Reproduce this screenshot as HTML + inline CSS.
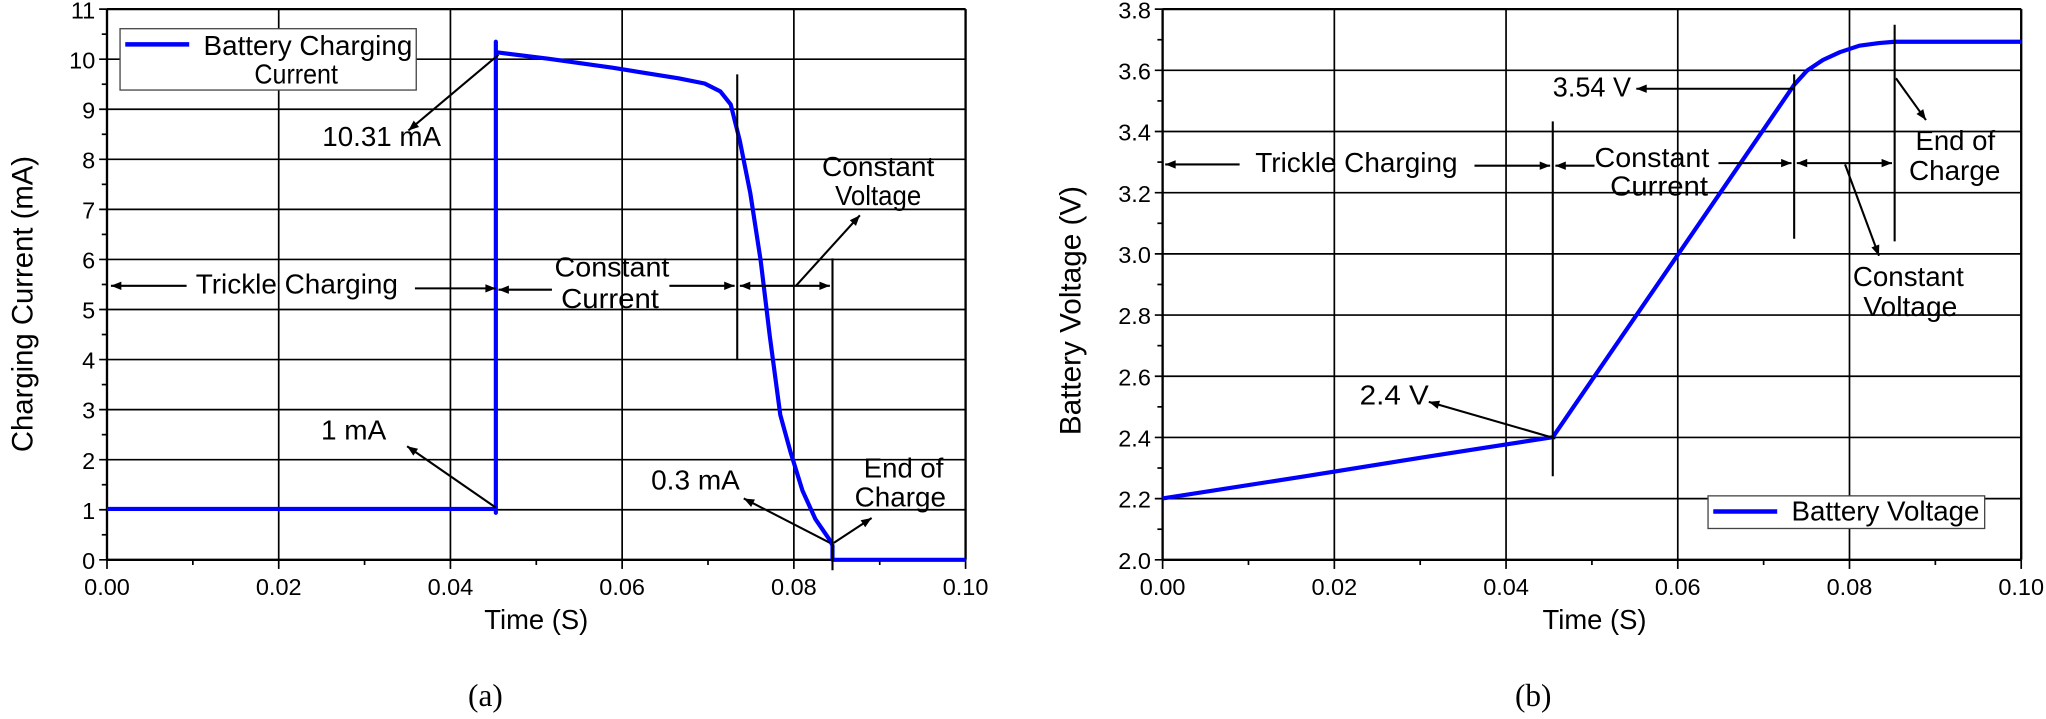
<!DOCTYPE html>
<html><head><meta charset="utf-8"><style>
html,body{margin:0;padding:0;background:#fff;}
svg{display:block;}
text{font-family:"Liberation Sans",Arial,sans-serif;fill:#000;}
</style></head><body>
<svg id="s" width="2046" height="719" viewBox="0 0 1568 551" preserveAspectRatio="none" xmlns="http://www.w3.org/2000/svg">
<defs>
<marker id="ah" viewBox="0 0 10 10" refX="10" refY="5" markerWidth="12" markerHeight="8" markerUnits="userSpaceOnUse" orient="auto">
<path d="M0,1 L10,5 L0,9 Z" fill="#000"/></marker>
</defs>
<g id="grid" stroke="#000" stroke-width="1.3" fill="none"></g>
<g id="lbl" font-size="18"></g>

<polyline fill="none" stroke="#0000ff" stroke-width="3.2" stroke-linejoin="round" points="82,390 380,390 380,393 380,32 380,40 420,45 470,52 520,60 540,64 552,70 560,80 567,108 575,148 583,200 590,258 598,318 606,347 615,376 625,398 636,414 638,418 638,429 740,429"/>
<polyline fill="none" stroke="#0000ff" stroke-width="3.2" stroke-linejoin="round" points="891,382 1000,365 1100,349 1190,335 1286,195 1375,65 1385,54 1397,46 1410,40 1425,35 1440,33 1452,32 1549,32"/>

<g stroke="#000" stroke-width="1.6" fill="none">
<line x1="565" y1="57" x2="565" y2="276"/>
<line x1="638" y1="198" x2="638" y2="437"/>
<line x1="382" y1="42" x2="313" y2="100" marker-end="url(#ah)"/>
<line x1="143" y1="219" x2="85" y2="219" marker-end="url(#ah)"/>
<line x1="318" y1="221" x2="380" y2="221" marker-end="url(#ah)"/>
<line x1="423" y1="222" x2="382" y2="222" marker-end="url(#ah)"/>
<line x1="513" y1="219" x2="563" y2="219" marker-end="url(#ah)"/>
<line x1="585" y1="219" x2="567" y2="219" marker-end="url(#ah)"/>
<line x1="585" y1="219" x2="636" y2="219" marker-end="url(#ah)"/>
<line x1="610" y1="219" x2="659" y2="165" marker-end="url(#ah)"/>
<line x1="380" y1="389" x2="312" y2="342" marker-end="url(#ah)"/>
<line x1="636" y1="416" x2="570" y2="382" marker-end="url(#ah)"/>
<line x1="639" y1="416" x2="668" y2="397" marker-end="url(#ah)"/>
<line x1="1190" y1="93" x2="1190" y2="365"/>
<line x1="1375" y1="57" x2="1375" y2="183"/>
<line x1="1452" y1="19" x2="1452" y2="185"/>
<line x1="950" y1="126" x2="893" y2="126" marker-end="url(#ah)"/>
<line x1="1130" y1="127" x2="1188" y2="127" marker-end="url(#ah)"/>
<line x1="1222" y1="127" x2="1192" y2="127" marker-end="url(#ah)"/>
<line x1="1317" y1="125" x2="1373" y2="125" marker-end="url(#ah)"/>
<line x1="1414" y1="125" x2="1377" y2="125" marker-end="url(#ah)"/>
<line x1="1414" y1="125" x2="1450" y2="125" marker-end="url(#ah)"/>
<line x1="1414" y1="126" x2="1440" y2="196" marker-end="url(#ah)"/>
<line x1="1453" y1="60" x2="1476" y2="92" marker-end="url(#ah)"/>
<line x1="1375" y1="68" x2="1254" y2="68" marker-end="url(#ah)"/>
<line x1="1192" y1="336" x2="1095" y2="308" marker-end="url(#ah)"/>
</g>

<rect x="92" y="22" width="227" height="47" fill="#fff" stroke="#444" stroke-width="1"/>
<line x1="96" y1="34" x2="145" y2="34" stroke="#0000ff" stroke-width="3.5"/>
<g font-size="21" lengthAdjust="spacingAndGlyphs">
<text x="156" y="42" textLength="160" lengthAdjust="spacingAndGlyphs">Battery Charging</text>
<text x="195" y="64" textLength="64" lengthAdjust="spacingAndGlyphs">Current</text>
</g>
<rect x="1309" y="380" width="212" height="25" fill="#fff" stroke="#444" stroke-width="1"/>
<line x1="1313" y1="392" x2="1362" y2="392" stroke="#0000ff" stroke-width="3.5"/>
<text x="1373" y="399" font-size="21" textLength="144" lengthAdjust="spacingAndGlyphs">Battery Voltage</text>

<g font-size="21">
<text x="247" y="112" textLength="91" lengthAdjust="spacingAndGlyphs">10.31 mA</text>
<text x="150" y="225" textLength="155" lengthAdjust="spacingAndGlyphs">Trickle Charging</text>
<text x="425" y="212" textLength="88" lengthAdjust="spacingAndGlyphs">Constant</text>
<text x="430" y="236" textLength="75" lengthAdjust="spacingAndGlyphs">Current</text>
<text x="630" y="135" textLength="86" lengthAdjust="spacingAndGlyphs">Constant</text>
<text x="640" y="157" textLength="66" lengthAdjust="spacingAndGlyphs">Voltage</text>
<text x="246" y="337" textLength="50" lengthAdjust="spacingAndGlyphs">1 mA</text>
<text x="499" y="375" textLength="68" lengthAdjust="spacingAndGlyphs">0.3 mA</text>
<text x="662" y="366" textLength="61" lengthAdjust="spacingAndGlyphs">End of</text>
<text x="655" y="388" textLength="70" lengthAdjust="spacingAndGlyphs">Charge</text>
<text x="962" y="132" textLength="155" lengthAdjust="spacingAndGlyphs">Trickle Charging</text>
<text x="1222" y="128" textLength="88" lengthAdjust="spacingAndGlyphs">Constant</text>
<text x="1234" y="150" textLength="75" lengthAdjust="spacingAndGlyphs">Current</text>
<text x="1190" y="74" textLength="60" lengthAdjust="spacingAndGlyphs">3.54 V</text>
<text x="1468" y="115" textLength="61" lengthAdjust="spacingAndGlyphs">End of</text>
<text x="1463" y="138" textLength="70" lengthAdjust="spacingAndGlyphs">Charge</text>
<text x="1420" y="219" textLength="85" lengthAdjust="spacingAndGlyphs">Constant</text>
<text x="1428" y="242" textLength="72" lengthAdjust="spacingAndGlyphs">Voltage</text>
<text x="1042" y="310" textLength="53" lengthAdjust="spacingAndGlyphs">2.4 V</text>
</g>

<g font-size="21">
<text x="411" y="482" text-anchor="middle">Time (S)</text>
<text x="1222" y="482" text-anchor="middle">Time (S)</text>
</g>
<g font-size="23">
<text transform="translate(25,233) rotate(-90)" text-anchor="middle" textLength="227" lengthAdjust="spacingAndGlyphs">Charging Current (mA)</text>
<text transform="translate(828,238) rotate(-90)" text-anchor="middle" textLength="191" lengthAdjust="spacingAndGlyphs">Battery Voltage (V)</text>
</g>
<text x="372" y="541" font-size="24" text-anchor="middle" style="font-family:'Liberation Serif',serif">(a)</text>
<text x="1175" y="541" font-size="24" text-anchor="middle" style="font-family:'Liberation Serif',serif">(b)</text>
</svg>
<script>
(function(){
var NS="http://www.w3.org/2000/svg",g=document.getElementById('grid'),L=document.getElementById('lbl');
function ln(x1,y1,x2,y2,w){var e=document.createElementNS(NS,'line');e.setAttribute('x1',x1);e.setAttribute('y1',y1);e.setAttribute('x2',x2);e.setAttribute('y2',y2);if(w)e.setAttribute('stroke-width',w);g.appendChild(e);}
function tx(x,y,s,a){var e=document.createElementNS(NS,'text');e.setAttribute('x',x);e.setAttribute('y',y);if(a)e.setAttribute('text-anchor',a);e.textContent=s;L.appendChild(e);}
function plot(x0,x1,yt,yb,nY,ylabs){
 var dx=(x1-x0)/10, dy=(yb-yt)/nY;
 for(var i=1;i<10;i++){var x=x0+i*dx; if(i%2==0) ln(x,yt,x,yb); ln(x,yb,x,yb+(i%2?4:7));}
 ln(x0,yb,x0,yb+7);ln(x1,yb,x1,yb+7);
 for(var j=0;j<=nY;j++){var y=yb-j*dy; ln(x0-6,y,x1,y); if(j<nY){ln(x0-4,y-dy/2,x0,y-dy/2);} tx(x0-9,y+7,ylabs[j],'end');}
 ln(x0,yt,x0,yb,1.8);ln(x1,yt,x1,yb,1.8);ln(x0,yt,x1,yt,1.8);ln(x0,yb,x1,yb,1.8);
 var xl=['0.00','0.02','0.04','0.06','0.08','0.10'];
 for(var k=0;k<6;k++) tx(x0+2*k*dx,456,xl[k],'middle');
}
var a=[];for(var i=0;i<=11;i++)a.push(String(i));
plot(82,740,7,429,11,a);
var b=[];for(var i=0;i<=9;i++)b.push((2+i*0.2).toFixed(1));
plot(891,1549,7,429,9,b);
})();
</script>
</body></html>
